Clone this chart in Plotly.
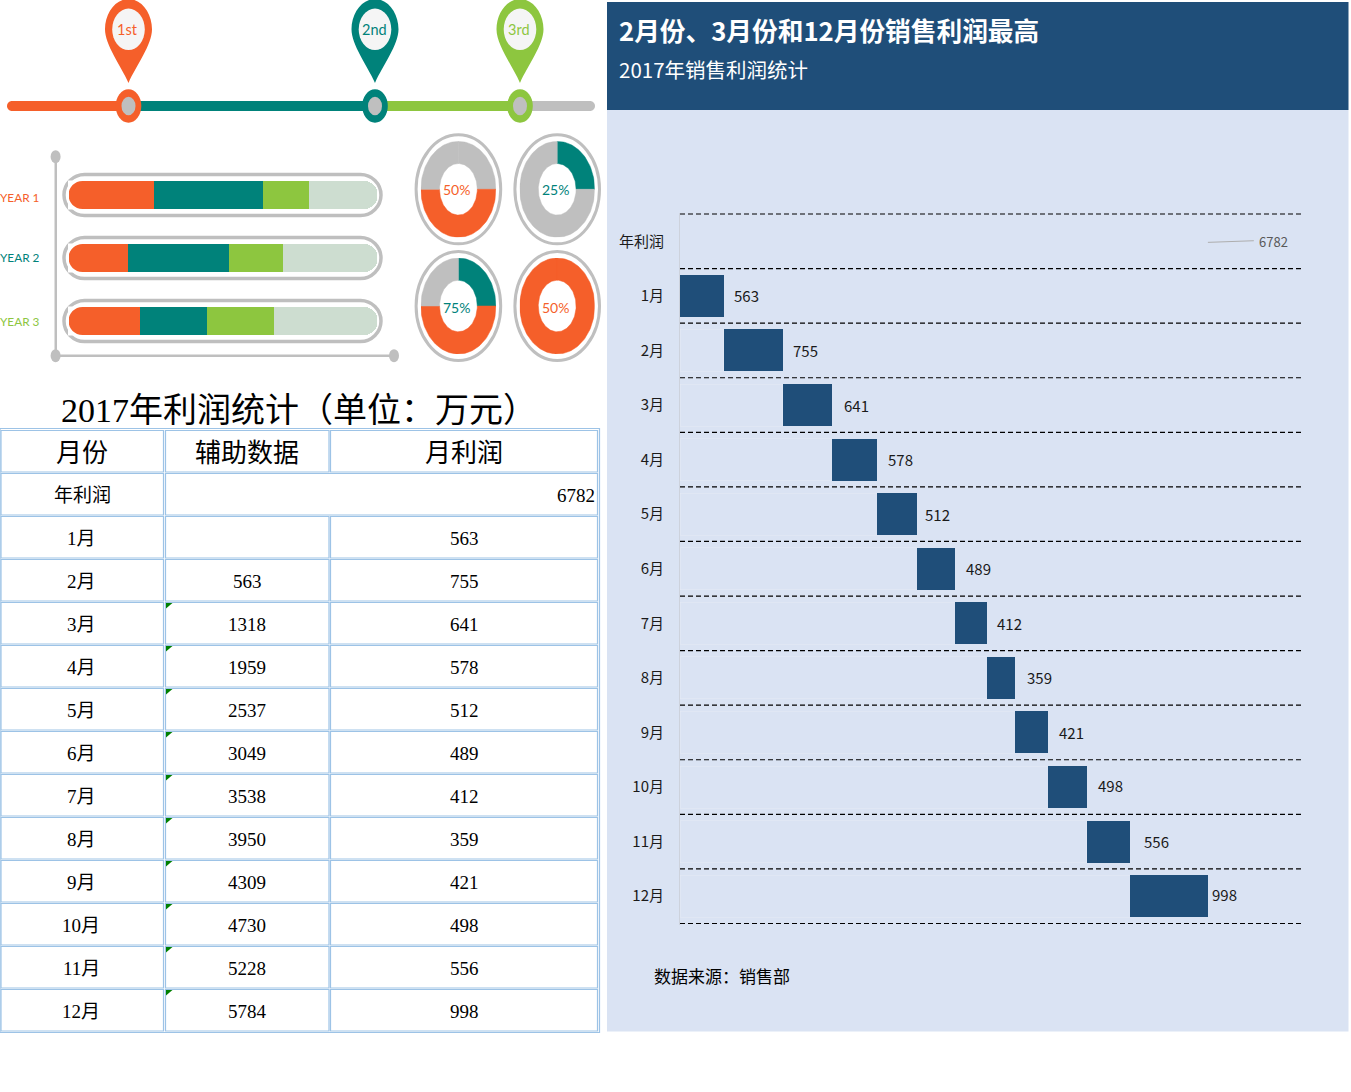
import math
import plotly.graph_objects as go

W, H = 1351, 1092

# ---------- data ----------
months = ["1月", "2月", "3月", "4月", "5月", "6月", "7月", "8月", "9月", "10月", "11月", "12月"]
monthly_profit = [563, 755, 641, 578, 512, 489, 412, 359, 421, 498, 556, 998]
helper_values = [0, 563, 1318, 1959, 2537, 3049, 3538, 3950, 4309, 4730, 5228, 5784]
helper_text = ["", "563", "1318", "1959", "2537", "3049", "3538", "3950", "4309", "4730", "5228", "5784"]
annual_label = "年利润"
annual_total = 6782
table_headers = ["月份", "辅助数据", "月利润"]

year_labels = ["YEAR 1", "YEAR 2", "YEAR 3"]
year_orange = [27.6, 19.3, 23.0]
year_teal = [35.5, 32.8, 21.8]
year_green = [14.6, 17.4, 21.8]
year_rest = [22.3, 30.5, 33.4]

donut_labels = ["50%", "25%", "75%", "50%"]
donut_shares = [[25, 50, 25], [25, 75], [25, 50, 25], [100]]
donut_kinds = [["gray", "orange", "gray"], ["teal", "gray"], ["teal", "orange", "gray"], ["orange"]]

pin_labels = ["1st", "2nd", "3rd"]

title_main = "2月份、3月份和12月份销售利润最高"
title_sub = "2017年销售利润统计"
source_note = "数据来源：销售部"
table_title = "2017年利润统计（单位：万元）"

# ---------- style ----------
ORANGE, TEAL, GREEN, GRAY, PALE = "#F55F2A", "#00827A", "#8DC63F", "#BFBFBF", "#CDDDD0"
COLORS = {"orange": ORANGE, "teal": TEAL, "green": GREEN, "gray": GRAY}
NAVY, PANEL, CELL = "#1F4E79", "#DAE3F3", "#9DC3E6"
SANS = "Noto Sans CJK SC, Noto Sans, sans-serif"
SERIF = "Liberation Serif, Noto Sans CJK SC, serif"
NARROW = "Lato, Liberation Sans, sans-serif"

def fx(x): return x / W
def fy(y): return 1 - y / H
def P(x, y): return f"{fx(x):.6f},{fy(y):.6f}"

shapes, notes = [], []

def rect(x0, y0, x1, y1, fill, line=None, lw=0, layer="below"):
    shapes.append(dict(type="rect", xref="paper", yref="paper", x0=fx(x0), x1=fx(x1), y0=fy(y1), y1=fy(y0),
                       fillcolor=fill, line=dict(color=line or fill, width=lw), layer=layer))

def ell(cx, cy, rx, ry, fill, line=None, lw=0):
    shapes.append(dict(type="circle", xref="paper", yref="paper", x0=fx(cx-rx), x1=fx(cx+rx), y0=fy(cy+ry), y1=fy(cy-ry),
                       fillcolor=fill, line=dict(color=line or fill, width=lw), layer="below"))

def path(d, fill, line=None, lw=0, layer="below"):
    shapes.append(dict(type="path", xref="paper", yref="paper", path=d, fillcolor=fill,
                       line=dict(color=line or fill, width=lw), layer=layer))

def capsule(x0, y0, x1, y1, fill, line=None, lw=0):
    r = (y1 - y0) / 2
    k = r * 0.55
    d = (f"M{P(x0+r,y0)} L{P(x1-r,y0)} C{P(x1-r+k,y0)} {P(x1,y0+r-k)} {P(x1,y0+r)} "
         f"C{P(x1,y0+r+k)} {P(x1-r+k,y1)} {P(x1-r,y1)} L{P(x0+r,y1)} "
         f"C{P(x0+r-k,y1)} {P(x0,y0+r+k)} {P(x0,y0+r)} C{P(x0,y0+r-k)} {P(x0+r-k,y0)} {P(x0+r,y0)} Z")
    path(d, fill, line, lw)

def text(x, y, s, size, color="#000000", family=SANS, anchor="center", bold=False):
    notes.append(dict(xref="paper", yref="paper", x=fx(x), y=fy(y), text=f"<b>{s}</b>" if bold else s,
                      showarrow=False, xanchor=anchor, yanchor="middle",
                      font=dict(size=size, color=color, family=family), borderpad=0, borderwidth=0))

# ---------- timeline ----------
capsule(7, 101, 40, 111, ORANGE)
rect(20, 101, 128, 111, ORANGE)
rect(128, 101, 375, 111, TEAL)
rect(375, 101, 520, 111, GREEN)
capsule(560, 101, 595, 111, GRAY)
rect(520, 101, 575, 111, GRAY)
pin_x = [128.5, 375, 520]
pin_c = [ORANGE, TEAL, GREEN]
for cx, c, lab in zip(pin_x, pin_c, pin_labels):
    ell(cx, 106, 12.8, 16.7, c)
    ell(cx, 106, 7, 9.3, GRAY)
    d = (f"M{P(cx,83)} C{P(cx-8,65)} {P(cx-23.5,45)} {P(cx-23.5,29.3)} C{P(cx-23.5,13)} {P(cx-13,-1)} {P(cx,-1)} "
         f"C{P(cx+13,-1)} {P(cx+23.5,13)} {P(cx+23.5,29.3)} C{P(cx+23.5,45)} {P(cx+8,65)} {P(cx,83)} Z")
    path(d, c)
    ell(cx, 29.3, 16.3, 20.7, "#F5F5F5")
    text(cx - 1, 29, lab, 14.5, c, NARROW)

# ---------- year bars frame ----------
rect(54.5, 157, 57, 356, GRAY)
rect(55, 354.5, 394, 357, GRAY)
ell(55.6, 156.7, 5, 6.5, GRAY)
ell(55.6, 355.7, 5, 6.5, GRAY)
ell(394, 355.7, 5, 6.5, GRAY)
row_centers = [195, 258, 321]
for yc in row_centers:
    capsule(64, yc - 20.5, 381, yc + 20.5, "#FFFFFF", GRAY, 3.5)
    # round the left end of each stack (plotly only rounds the far end)
    r, k, x0 = 14, 14 * 0.55, 68.5
    path(f"M{P(x0-0.5,yc-r-0.5)} L{P(x0+r,yc-r-0.5)} L{P(x0+r,yc-r)} C{P(x0+r-k,yc-r)} {P(x0,yc-k)} {P(x0,yc)} L{P(x0-0.5,yc)} Z",
         "#FFFFFF", layer="above")
    path(f"M{P(x0-0.5,yc+r+0.5)} L{P(x0+r,yc+r+0.5)} L{P(x0+r,yc+r)} C{P(x0+r-k,yc+r)} {P(x0,yc+k)} {P(x0,yc)} L{P(x0-0.5,yc)} Z",
         "#FFFFFF", layer="above")
for yc, lab, c in zip([197, 257.5, 321], year_labels, [ORANGE, TEAL, GREEN]):
    text(0, yc, lab, 11.8, c, NARROW, anchor="left")

# ---------- donut rings ----------
donut_centers = [(458.4, 189.3), (557.2, 189.3), (458.4, 306), (557.2, 306)]
for cx, cy in donut_centers:
    ell(cx, cy, 42.3, 54.5, "rgba(0,0,0,0)", GRAY, 3)

# ---------- table ----------
text(299, 410, table_title, 34, "#000000", SERIF)
rect(0, 428.5, 599.5, 1032.5, "#FFFFFF", CELL, 1.2)
c1 = (1, 163.5)
c2 = (165.5, 329)
c3 = (330.5, 597.5)
row_top = lambda i: 430.5 + 43 * i
for i in range(14):
    t, b = row_top(i), row_top(i) + 41.5
    rect(c1[0], t, c1[1], b, "#FFFFFF", CELL, 1.2)
    if i == 1:
        rect(c2[0], t, c3[1], b, "#FFFFFF", CELL, 1.2)
    else:
        rect(c2[0], t, c2[1], b, "#FFFFFF", CELL, 1.2)
        rect(c3[0], t, c3[1], b, "#FFFFFF", CELL, 1.2)
    if i >= 4:
        path(f"M{P(166,t+0.5)} L{P(172.5,t+0.5)} L{P(166,t+6)} Z", "#007F00")
for s, x in zip(table_headers, [82, 247, 464.5]):
    text(x, 453.5, s, 26, "#000000", SERIF)
text(82, 495.5, annual_label, 19, "#000000", SERIF)
text(595, 495.5, str(annual_total), 19, "#000000", SERIF, anchor="right")
for i, (m, h, v) in enumerate(zip(months, helper_text, monthly_profit)):
    y = 538 + 43 * i
    text(81, y, m, 19, "#000000", SERIF)
    if h:
        text(247, y, h, 19, "#000000", SERIF)
    text(464, y, str(v), 19, "#000000", SERIF)

# ---------- right panel ----------
rect(607, 110, 1348.5, 1031.5, PANEL)
rect(607, 2, 1348.5, 110, NAVY)
text(619, 29.5, title_main, 25.7, "#FFFFFF", SANS, anchor="left", bold=True)
text(619, 68.5, title_sub, 20.5, "#FFFFFF", SANS, anchor="left")
text(654, 975, source_note, 17, "#000000", SANS, anchor="left")

# ---------- figure ----------
fig = go.Figure()
cats = [annual_label] + months

# waterfall
fig.add_trace(go.Bar(y=months, x=helper_values, orientation="h", marker=dict(color="rgba(0,0,0,0)"),
                     hoverinfo="skip", xaxis="x", yaxis="y", showlegend=False))
fig.add_trace(go.Bar(y=months, x=monthly_profit, orientation="h", marker=dict(color=NAVY, line=dict(width=0)),
                     xaxis="x", yaxis="y", showlegend=False))
label_shift = [8, 8, 10, 9, 6, 9, 8, 10, 9, 9, 12, 2]
label_vshift = [0, 0, 0, 0, 0, 0, 0, 0, 0, 2, 0, 2]
for m, h, v, dx, dy in zip(months, helper_values, monthly_profit, label_shift, label_vshift):
    notes.append(dict(xref="x", yref="y", x=h + v, y=m, text=str(v), showarrow=False, xanchor="left", yanchor="middle",
                      xshift=dx, yshift=dy, font=dict(size=15, color="#1a1a1a", family=SANS)))
notes.append(dict(xref="x", yref="y", x=annual_total, y=annual_label, text=str(annual_total), showarrow=False,
                  xanchor="left", yanchor="middle", xshift=49, yshift=0, font=dict(size=13, color="#595959", family=SANS)))
shapes.append(dict(type="line", xref="x", yref="y", x0=annual_total, x1=annual_total + 590, y0=0.02, y1=-0.01,
                   line=dict(color="#AEAEAE", width=1), layer="above"))
for i in range(len(cats) + 1):
    shapes.append(dict(type="line", xref="x domain", yref="y", x0=0, x1=1, y0=i - 0.5, y1=i - 0.5,
                       line=dict(color="#000000", width=1.2, dash="5px,3px"), layer="above"))

# year stacks
for vals, col, corner in [(year_orange, ORANGE, 14), (year_teal, TEAL, None), (year_green, GREEN, None), (year_rest, PALE, None)]:
    mk = dict(color=col, line=dict(width=0))
    if corner:
        mk["cornerradius"] = corner
    fig.add_trace(go.Bar(y=year_labels, x=vals, orientation="h", marker=mk, xaxis="x2", yaxis="y2",
                         hoverinfo="skip", showlegend=False))

# donuts: elliptical rings, drawn on free-aspect axes
HOLE_X, HOLE_Y = 0.504, 0.537
for n, (shares, kinds, label, (cx, cy)) in enumerate(zip(donut_shares, donut_kinds, donut_labels, donut_centers)):
    ax = n + 3
    start = 0.0
    total = sum(shares)
    for share, kind in zip(shares, kinds):
        a0 = start / total * 2 * math.pi
        a1 = (start + share) / total * 2 * math.pi
        start += share
        steps = max(4, int(share * 1.5))
        th = [a0 + (a1 - a0) * k / steps for k in range(steps + 1)]
        xs = [math.sin(t) for t in th] + [HOLE_X * math.sin(t) for t in reversed(th)]
        ys = [math.cos(t) for t in th] + [HOLE_Y * math.cos(t) for t in reversed(th)]
        xs.append(xs[0]); ys.append(ys[0])
        fig.add_trace(go.Scatter(x=xs, y=ys, mode="lines", fill="toself", fillcolor=COLORS[kind],
                                 line=dict(width=0.5, color=COLORS[kind]), xaxis=f"x{ax}", yaxis=f"y{ax}",
                                 hoverinfo="skip", showlegend=False))
    lab_color = ORANGE if n in (0, 3) else TEAL
    text(cx - 2, cy + (0 if n < 2 else 1.5), label, 14, lab_color, NARROW)

layout = dict(
    width=W, height=H, margin=dict(l=0, r=0, t=0, b=0, pad=0), paper_bgcolor="#FFFFFF", plot_bgcolor="rgba(0,0,0,0)",
    barmode="stack", bargap=0.23, showlegend=False, shapes=shapes, annotations=notes, font=dict(family=SANS),
    xaxis=dict(domain=[fx(680), fx(1301)], range=[0, 7978], visible=False, anchor="y", fixedrange=True),
    yaxis=dict(domain=[fy(924.6), fy(212.9)], type="category", categoryorder="array", categoryarray=cats,
               range=[12.52, -0.52], showgrid=False, showline=True, linecolor="#CDD2DC", linewidth=1, ticks="",
               ticklabelstandoff=12, tickmode="array", tickvals=cats, ticktext=cats, anchor="x",
               tickfont=dict(size=15, color="#1a1a1a", family=SANS), fixedrange=True),
    xaxis2=dict(domain=[fx(68.5), fx(377.4)], range=[0, 100], visible=False, anchor="y2", fixedrange=True),
    yaxis2=dict(domain=[fy(352.5), fy(163.5)], type="category", categoryorder="array", categoryarray=year_labels,
                range=[2.5, -0.5], visible=False, anchor="x2", fixedrange=True),
)
for n, (cx, cy) in enumerate(donut_centers):
    ax = n + 3
    layout[f"xaxis{ax}"] = dict(domain=[fx(cx - 37.5), fx(cx + 37.5)], range=[-1, 1], visible=False, anchor=f"y{ax}", fixedrange=True)
    layout[f"yaxis{ax}"] = dict(domain=[fy(cy + 48), fy(cy - 48)], range=[-1, 1], visible=False, anchor=f"x{ax}", fixedrange=True)
fig.update_layout(**layout)

for tr in fig.data:
    if tr.xaxis == "x2":
        tr.width = 0.444
    elif tr.xaxis == "x":
        tr.width = 0.77

fig.write_html("out.html", config=dict(displayModeBar=False),
               post_script="document.body.style.margin='0';document.documentElement.style.overflow='hidden';")
